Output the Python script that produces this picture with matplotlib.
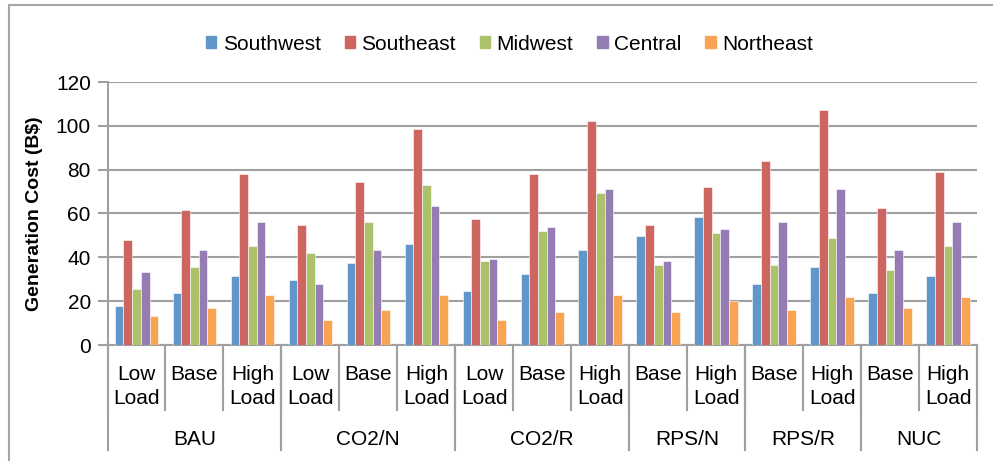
import matplotlib
matplotlib.use("Agg")
import matplotlib.pyplot as plt
from matplotlib.patches import Rectangle
from matplotlib.lines import Line2D

plt.rcParams['font.family'] = ['Liberation Sans', 'DejaVu Sans']

scenarios = ["BAU", "CO2/N", "CO2/R", "RPS/N", "RPS/R", "NUC"]
loads = [
    ["Low\nLoad", "Base", "High\nLoad"],
    ["Low\nLoad", "Base", "High\nLoad"],
    ["Low\nLoad", "Base", "High\nLoad"],
    ["Base", "High\nLoad"],
    ["Base", "High\nLoad"],
    ["Base", "High\nLoad"],
]
regions = ["Southwest", "Southeast", "Midwest", "Central", "Northeast"]
colors = ["#6096CA", "#CD6560", "#ABC26A", "#957CB3", "#F8A453"]

southwest = [18.0, 23.7, 31.7, 29.7, 37.3, 46.1, 24.8, 32.6, 43.2, 49.9, 58.6, 27.7, 35.5, 23.7, 31.5]
southeast = [48.1, 61.6, 78.1, 54.8, 74.3, 98.5, 57.7, 78.1, 102.4, 54.8, 72.3, 83.9, 107.3, 62.6, 79.0]
midwest = [25.7, 35.5, 45.2, 42.2, 55.9, 73.2, 38.4, 52.1, 69.4, 36.4, 51.0, 36.4, 49.0, 34.4, 45.2]
central = [33.5, 43.4, 55.9, 27.7, 43.4, 63.6, 39.4, 53.9, 71.2, 38.4, 53.0, 55.9, 71.2, 43.2, 55.9]
northeast = [13.4, 17.0, 22.8, 11.3, 16.0, 22.8, 11.3, 15.1, 22.8, 15.1, 19.9, 16.0, 21.9, 17.0, 21.9]
series = [southwest, southeast, midwest, central, northeast]

W, H = 993, 461
fig = plt.figure(figsize=(W / 100, H / 100), dpi=100)

# outer chart border
fig.patches.append(Rectangle((9 / W, -0.01), 1.0, 1 - 5 / H + 0.01, transform=fig.transFigure,
                             fill=False, edgecolor="#A6A6A6", linewidth=1.5))

x0, x1 = 107.5 / W, 977 / W
y_top, y_zero = 1 - 82 / H, 1 - 345 / H
ax = fig.add_axes([x0, y_zero, x1 - x0, y_top - y_zero])

n = len(southwest)
idx = list(range(n))
bw = 0.15
for k, (vals, c) in enumerate(zip(series, colors)):
    pos = [i + (k - 2) * bw for i in idx]
    ax.bar(pos, vals, width=bw, color=c, edgecolor="white", linewidth=0.4,
           label=regions[k], zorder=3)

ax.set_xlim(-0.5, n - 0.5)
ax.set_ylim(0, 120)
ax.set_yticks(range(0, 121, 20))
ax.yaxis.grid(True, color="#A0A0A0", linewidth=1.5, zorder=0)
ax.tick_params(axis="y", length=7, width=1.5, color="#A0A0A0", labelsize=15, pad=5)
ax.tick_params(axis="x", length=0, labelbottom=False)
for s in ["top", "right"]:
    ax.spines[s].set_visible(False)
for s in ["left", "bottom"]:
    ax.spines[s].set_color("#A0A0A0")
    ax.spines[s].set_linewidth(1.5)

ax.set_ylabel("Generation Cost (B$)", fontsize=14, fontweight="bold", labelpad=9)

# two-level category axis
trans = ax.get_xaxis_transform()
px = 1 / (y_top - y_zero) / H  # one pixel in axes-y units
lvl1 = -65 * px
lvl2 = -105 * px
lc = "#A0A0A0"

labels = [l for grp in loads for l in grp]
for i, lab in enumerate(labels):
    ax.text(i, -20 * px, lab, transform=trans, ha="center", va="top",
            fontsize=15, linespacing=1.36)
for i in range(n + 1):
    ax.add_line(Line2D([i - 0.5, i - 0.5], [0, lvl1], transform=trans, color=lc,
                       linewidth=1.5, clip_on=False))

start = 0
for name, grp in zip(scenarios, loads):
    end = start + len(grp)
    ax.text((start + end - 1) / 2, -94 * px, name, transform=trans, ha="center",
            va="center", fontsize=15)
    for b in (start, end):
        ax.add_line(Line2D([b - 0.5, b - 0.5], [0, lvl2], transform=trans, color=lc,
                           linewidth=1.5, clip_on=False))
    start = end

handles = [Rectangle((0, 0), 1, 1, color=c) for c in colors]
fig.legend(handles, regions, loc="center", bbox_to_anchor=(0.513, 1 - 44 / H), ncol=5,
           frameon=False, fontsize=15, handlelength=0.5, handleheight=0.5,
           handletextpad=0.3, columnspacing=1.15)

fig.savefig("out.png", dpi=100)
